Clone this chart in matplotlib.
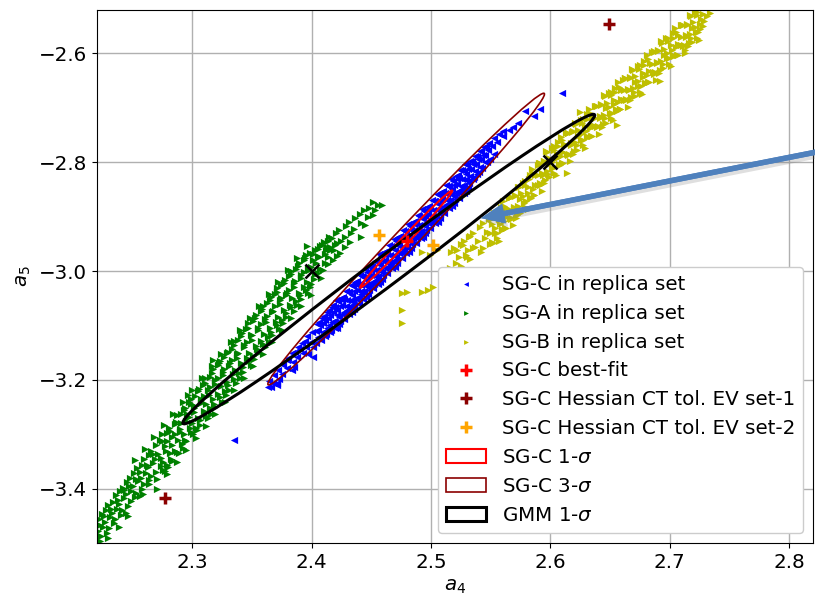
import numpy as np
import matplotlib
matplotlib.use("Agg")
import matplotlib.pyplot as plt
from matplotlib.patches import Ellipse
import matplotlib.patheffects as pe

plt.rcParams['font.family'] = ['DejaVu Sans']
plt.rcParams['font.size'] = 14.3

# ---------------- data ----------------
# SG-A replica points (a4, a5)
sga_pts = [
    (2.2215,-3.455),(2.2206,-3.478),(2.2222,-3.496),(2.2238,-3.447),(2.2247,-3.470),(2.2233,-3.488),
    (2.2276,-3.440),(2.2265,-3.462),(2.2281,-3.481),(2.2296,-3.430),(2.2309,-3.452),(2.2302,-3.472),
    (2.2335,-3.425),(2.2324,-3.445),(2.2340,-3.463),(2.2357,-3.412),(2.2368,-3.438),(2.2352,-3.456),
    (2.2394,-3.405),(2.2386,-3.428),(2.2399,-3.449),(2.2418,-3.398),(2.2427,-3.418),(2.2410,-3.440),
    (2.2455,-3.387),(2.2446,-3.410),(2.2461,-3.432),(2.2476,-3.380),(2.2489,-3.404),(2.2482,-3.423),
    (2.2514,-3.372),(2.2505,-3.395),(2.2518,-3.415),(2.2536,-3.362),(2.2547,-3.386),(2.2531,-3.408),
    (2.2575,-3.356),(2.2566,-3.380),(2.2579,-3.400),(2.2597,-3.345),(2.2608,-3.372),(2.2593,-3.392),
    (2.2634,-3.338),(2.2625,-3.360),(2.2639,-3.385),(2.2656,-3.330),(2.2668,-3.353),(2.2652,-3.377),
    (2.2694,-3.320),(2.2685,-3.345),(2.2698,-3.369),
    (2.2225,-3.466),(2.2262,-3.451),(2.2318,-3.437),(2.2372,-3.421),(2.2430,-3.402),(2.2470,-3.395),
    (2.2525,-3.383),(2.2560,-3.370),(2.2615,-3.356),(2.2670,-3.336),(2.2290,-3.490),(2.2440,-3.444),
    (2.2588,-3.410),
    (2.2732,-3.310),(2.2711,-3.336),(2.2737,-3.358),(2.2706,-3.382),(2.2745,-3.312),(2.2738,-3.344),(2.2750,-3.366),
    (2.2749,-3.300),(2.2775,-3.330),(2.2756,-3.352),(2.2768,-3.368),(2.2786,-3.298),(2.2772,-3.322),(2.2790,-3.356),
    (2.2806,-3.288),(2.2783,-3.312),(2.2810,-3.335),(2.2798,-3.360),(2.2815,-3.294),(2.2828,-3.320),(2.2822,-3.345),
    (2.2852,-3.282),(2.2831,-3.306),(2.2857,-3.330),(2.2826,-3.350),(2.2866,-3.278),(2.2853,-3.300),(2.2870,-3.332),
    (2.2869,-3.265),(2.2895,-3.290),(2.2876,-3.310),(2.2888,-3.335),(2.2905,-3.262),(2.2892,-3.296),(2.2910,-3.318),
    (2.2926,-3.256),(2.2903,-3.280),(2.2930,-3.300),(2.2918,-3.326),(2.2935,-3.252),(2.2948,-3.276),(2.2941,-3.310),
    (2.2972,-3.240),(2.2951,-3.262),(2.2977,-3.288),(2.2946,-3.312),(2.2986,-3.244),(2.2973,-3.268),(2.2990,-3.296),
    (2.2989,-3.236),(2.3015,-3.260),(2.2996,-3.280),(2.3008,-3.300),(2.3025,-3.230),(2.3012,-3.252),(2.3030,-3.288),
    (2.3046,-3.220),(2.3023,-3.248),(2.3050,-3.270),(2.3038,-3.292),(2.3055,-3.216),(2.3068,-3.242),(2.3061,-3.274),
    (2.3092,-3.210),(2.3071,-3.236),(2.3097,-3.258),(2.3066,-3.284),(2.3106,-3.206),(2.3093,-3.230),(2.3110,-3.266),
    (2.3109,-3.196),(2.3135,-3.228),(2.3116,-3.244),(2.3128,-3.270),(2.3145,-3.194),(2.3132,-3.218),(2.3150,-3.252),
    (2.3166,-3.188),(2.3143,-3.214),(2.3170,-3.236),(2.3158,-3.262),(2.3175,-3.180),(2.3188,-3.208),(2.3181,-3.244),
    (2.3212,-3.172),(2.3191,-3.200),(2.3217,-3.226),(2.3186,-3.250),(2.3226,-3.170),(2.3213,-3.196),(2.3230,-3.232),
    (2.3229,-3.166),(2.3255,-3.192),(2.3236,-3.212),(2.3248,-3.240),(2.3265,-3.158),(2.3252,-3.186),(2.3270,-3.220),
    (2.3286,-3.150),(2.3263,-3.180),(2.3290,-3.204),(2.3278,-3.228),(2.3295,-3.148),(2.3308,-3.174),(2.3301,-3.210),
    (2.3332,-3.144),(2.3311,-3.170),(2.3337,-3.190),(2.3306,-3.218),(2.3346,-3.136),(2.3333,-3.164),(2.3350,-3.198),
    (2.3349,-3.128),(2.3375,-3.160),(2.3356,-3.182),(2.3368,-3.206),(2.3385,-3.126),(2.3372,-3.152),(2.3390,-3.188),
    (2.3406,-3.120),(2.3383,-3.150),(2.3410,-3.170),(2.3398,-3.196),(2.3415,-3.114),(2.3428,-3.140),(2.3421,-3.176),
    (2.3452,-3.106),(2.3431,-3.136),(2.3457,-3.160),(2.3426,-3.186),(2.3466,-3.104),(2.3453,-3.130),(2.3470,-3.166),
    (2.3469,-3.096),(2.3495,-3.126),(2.3476,-3.150),(2.3488,-3.172),(2.3505,-3.092),(2.3492,-3.118),(2.3510,-3.156),
    (2.3526,-3.086),(2.3503,-3.118),(2.3530,-3.138),(2.3518,-3.162),(2.3535,-3.080),(2.3548,-3.108),(2.3541,-3.144),
    (2.3572,-3.074),(2.3551,-3.104),(2.3577,-3.128),(2.3546,-3.150),(2.3586,-3.070),(2.3573,-3.098),(2.3590,-3.134),
    (2.3589,-3.064),(2.3615,-3.094),(2.3596,-3.116),(2.3608,-3.140),(2.3625,-3.058),(2.3612,-3.088),(2.3630,-3.122),
    (2.3646,-3.054),(2.3623,-3.082),(2.3650,-3.104),(2.3638,-3.130),(2.3655,-3.048),(2.3668,-3.076),(2.3661,-3.112),
    (2.3692,-3.042),(2.3671,-3.074),(2.3697,-3.094),(2.3666,-3.118),(2.3706,-3.038),(2.3693,-3.064),(2.3710,-3.100),
    (2.3709,-3.032),(2.3735,-3.060),(2.3716,-3.084),(2.3728,-3.106),(2.3745,-3.026),(2.3732,-3.054),(2.3750,-3.090),
    (2.3766,-3.022),(2.3743,-3.050),(2.3770,-3.072),(2.3758,-3.096),(2.3775,-3.016),(2.3788,-3.044),(2.3781,-3.078),
    (2.3812,-3.010),(2.3791,-3.040),(2.3817,-3.062),(2.3786,-3.084),(2.3826,-3.006),(2.3813,-3.034),(2.3830,-3.066),
    (2.3829,-3.000),(2.3855,-3.030),(2.3836,-3.050),(2.3848,-3.074),(2.3865,-2.996),(2.3852,-3.022),(2.3870,-3.056),
    (2.3886,-2.990),(2.3863,-3.018),(2.3890,-3.040),(2.3878,-3.062),(2.3895,-2.986),(2.3908,-3.012),(2.3901,-3.044),
    (2.3932,-2.980),(2.3911,-3.008),(2.3937,-3.030),(2.3906,-3.052),(2.3946,-2.976),(2.3933,-3.002),(2.3950,-3.034),
    (2.3949,-2.970),(2.3975,-2.998),(2.3956,-3.020),(2.3968,-3.040),(2.3985,-2.966),(2.3972,-2.994),(2.3990,-3.024),
    (2.4012,-2.968),(2.3991,-2.992),(2.4017,-3.014),(2.3986,-3.030),(2.4026,-2.962),(2.4013,-2.980),(2.4030,-3.006),
    (2.4049,-2.960),(2.4035,-2.985),(2.4056,-3.004),(2.4066,-2.954),(2.4053,-2.972),(2.4070,-2.996),
    (2.4086,-2.952),(2.4063,-2.975),(2.4090,-2.998),(2.4078,-3.012),(2.4105,-2.946),(2.4118,-2.962),(2.4111,-2.986),
    (2.4132,-2.944),(2.4111,-2.968),(2.4137,-2.988),(2.4146,-2.938),(2.4150,-2.956),(2.4133,-2.975),
    (2.4169,-2.940),(2.4155,-2.962),(2.4176,-2.980),(2.4185,-2.961),(2.4210,-2.949),(2.4130,-2.956),
    (2.4206,-2.930),(2.4193,-2.952),(2.4210,-2.972),(2.4232,-2.925),(2.4241,-2.945),(2.4237,-2.967),
    (2.4286,-2.918),(2.4275,-2.938),(2.4280,-2.956),(2.4312,-2.910),(2.4325,-2.930),(2.4320,-2.947),
    (2.4365,-2.902),(2.4352,-2.922),(2.4400,-2.896),(2.4412,-2.912),(2.4410,-2.938),(2.4435,-2.888),
    (2.4450,-2.916),(2.4480,-2.884),(2.4475,-2.900),(2.4515,-2.873),(2.4530,-2.888),(2.4515,-2.897),
    (2.4556,-2.879),(2.4590,-2.879),
    (2.317,-3.163),(2.296,-3.228),(2.270,-3.400),(2.246,-3.451),(2.2385,-3.470),
    # outer parts of the band
    (2.276,-3.284),(2.279,-3.374),(2.284,-3.262),(2.287,-3.351),(2.292,-3.240),(2.295,-3.329),
    (2.300,-3.218),(2.303,-3.307),(2.308,-3.196),(2.311,-3.285),(2.316,-3.174),(2.319,-3.263),
    (2.324,-3.152),(2.327,-3.241),(2.332,-3.130),(2.335,-3.219),(2.340,-3.108),(2.343,-3.197),
    (2.348,-3.086),(2.351,-3.175),(2.356,-3.064),(2.359,-3.153),(2.364,-3.042),(2.367,-3.131),
    (2.372,-3.020),(2.375,-3.109),(2.380,-2.998),(2.383,-3.087),(2.388,-2.976),(2.391,-3.065),
    (2.396,-2.954),(2.399,-3.044),
    (2.252,-3.348),(2.260,-3.328),(2.268,-3.306),(2.256,-3.414),(2.264,-3.392),
]

# SG-B replica points (a4, a5)
sgb_pts = [
    (2.5168,-2.965),(2.5155,-2.995),(2.5193,-2.958),(2.5211,-2.985),(2.5248,-2.950),(2.5232,-2.975),(2.5252,-2.990),
    (2.5275,-2.945),(2.5290,-2.970),(2.5330,-2.935),(2.5312,-2.962),(2.5326,-2.978),(2.5352,-2.930),(2.5371,-2.955),
    (2.5410,-2.920),(2.5393,-2.945),(2.5415,-2.965),(2.5436,-2.912),(2.5450,-2.940),(2.5432,-2.958),
    (2.5488,-2.905),(2.5472,-2.928),(2.5490,-2.950),(2.5505,-2.905),(2.5495,-2.930),(2.5510,-2.946),
    (2.5531,-2.894),(2.5512,-2.913),(2.5537,-2.931),(2.5516,-2.949),(2.5546,-2.898),(2.5533,-2.921),(2.5550,-2.940),
    (2.5549,-2.892),(2.5575,-2.914),(2.5556,-2.930),(2.5568,-2.944),(2.5586,-2.883),(2.5573,-2.905),(2.5590,-2.923),
    (2.5606,-2.872),(2.5583,-2.890),(2.5610,-2.908),(2.5598,-2.924),(2.5615,-2.880),(2.5628,-2.901),(2.5621,-2.921),
    (2.5652,-2.866),(2.5631,-2.885),(2.5657,-2.903),(2.5626,-2.921),(2.5666,-2.864),(2.5653,-2.886),(2.5670,-2.904),
    (2.5669,-2.864),(2.5695,-2.886),(2.5676,-2.902),(2.5688,-2.916),(2.5705,-2.861),(2.5692,-2.883),(2.5710,-2.903),
    (2.5726,-2.845),(2.5703,-2.863),(2.5730,-2.881),(2.5718,-2.897),(2.5735,-2.846),(2.5748,-2.868),(2.5741,-2.886),
    (2.5772,-2.838),(2.5751,-2.857),(2.5777,-2.875),(2.5746,-2.893),(2.5786,-2.841),(2.5773,-2.863),(2.5790,-2.883),
    (2.5789,-2.834),(2.5815,-2.856),(2.5796,-2.872),(2.5808,-2.886),(2.5825,-2.824),(2.5812,-2.846),(2.5830,-2.864),
    (2.5846,-2.813),(2.5823,-2.831),(2.5850,-2.849),(2.5838,-2.865),(2.5855,-2.819),(2.5868,-2.841),(2.5861,-2.861),
    (2.5892,-2.805),(2.5871,-2.824),(2.5897,-2.842),(2.5866,-2.860),(2.5906,-2.802),(2.5893,-2.824),(2.5910,-2.842),
    (2.5909,-2.801),(2.5935,-2.823),(2.5916,-2.839),(2.5928,-2.853),(2.5945,-2.797),(2.5932,-2.819),(2.5950,-2.839),
    (2.5966,-2.780),(2.5943,-2.798),(2.5970,-2.816),(2.5958,-2.832),(2.5975,-2.781),(2.5988,-2.803),(2.5981,-2.821),
    (2.6012,-2.773),(2.5991,-2.792),(2.6017,-2.810),(2.5986,-2.828),(2.6026,-2.777),(2.6013,-2.799),(2.6030,-2.819),
    (2.6029,-2.771),(2.6055,-2.793),(2.6036,-2.809),(2.6048,-2.823),(2.6065,-2.763),(2.6052,-2.785),(2.6070,-2.803),
    (2.6086,-2.753),(2.6063,-2.771),(2.6090,-2.789),(2.6078,-2.805),(2.6095,-2.760),(2.6108,-2.782),(2.6101,-2.802),
    (2.6132,-2.747),(2.6111,-2.766),(2.6137,-2.784),(2.6106,-2.802),(2.6146,-2.746),(2.6133,-2.768),(2.6150,-2.786),
    (2.6149,-2.746),(2.6175,-2.768),(2.6156,-2.784),(2.6168,-2.798),(2.6185,-2.743),(2.6172,-2.765),(2.6190,-2.785),
    (2.6206,-2.727),(2.6183,-2.745),(2.6210,-2.763),(2.6198,-2.779),(2.6215,-2.729),(2.6228,-2.751),(2.6221,-2.769),
    (2.6252,-2.722),(2.6231,-2.741),(2.6257,-2.759),(2.6226,-2.777),(2.6266,-2.727),(2.6253,-2.749),(2.6270,-2.769),
    (2.6269,-2.721),(2.6295,-2.743),(2.6276,-2.759),(2.6288,-2.773),(2.6305,-2.712),(2.6292,-2.734),(2.6310,-2.752),
    (2.6326,-2.702),(2.6303,-2.720),(2.6330,-2.738),(2.6318,-2.754),(2.6335,-2.710),(2.6348,-2.732),(2.6341,-2.752),
    (2.6372,-2.697),(2.6351,-2.716),(2.6377,-2.734),(2.6346,-2.752),(2.6386,-2.696),(2.6373,-2.718),(2.6390,-2.736),
    (2.6389,-2.696),(2.6415,-2.718),(2.6396,-2.734),(2.6408,-2.748),(2.6425,-2.693),(2.6412,-2.715),(2.6430,-2.735),
    (2.6446,-2.677),(2.6423,-2.695),(2.6450,-2.713),(2.6438,-2.729),(2.6455,-2.679),(2.6468,-2.701),(2.6461,-2.719),
    (2.6492,-2.672),(2.6471,-2.691),(2.6497,-2.709),(2.6466,-2.727),(2.6506,-2.677),(2.6493,-2.699),(2.6510,-2.719),
    (2.6509,-2.671),(2.6535,-2.693),(2.6516,-2.709),(2.6528,-2.723),(2.6545,-2.663),(2.6532,-2.685),(2.6550,-2.703),
    (2.6566,-2.653),(2.6543,-2.671),(2.6570,-2.689),(2.6558,-2.705),(2.6575,-2.661),(2.6588,-2.683),(2.6581,-2.703),
    (2.6612,-2.648),(2.6591,-2.667),(2.6617,-2.685),(2.6586,-2.703),(2.6626,-2.646),(2.6613,-2.668),(2.6630,-2.686),
    (2.6629,-2.646),(2.6655,-2.668),(2.6636,-2.684),(2.6648,-2.698),(2.6665,-2.644),(2.6652,-2.666),(2.6670,-2.686),
    (2.6686,-2.628),(2.6663,-2.646),(2.6690,-2.664),(2.6678,-2.680),(2.6695,-2.630),(2.6708,-2.652),(2.6701,-2.670),
    (2.6732,-2.623),(2.6711,-2.642),(2.6737,-2.660),(2.6706,-2.678),(2.6746,-2.628),(2.6733,-2.650),(2.6750,-2.670),
    (2.6749,-2.622),(2.6775,-2.644),(2.6756,-2.660),(2.6768,-2.674),(2.6785,-2.614),(2.6772,-2.636),(2.6790,-2.654),
    (2.6806,-2.603),(2.6783,-2.621),(2.6810,-2.639),(2.6798,-2.655),(2.6815,-2.611),(2.6828,-2.633),(2.6821,-2.653),
    (2.6852,-2.598),(2.6831,-2.617),(2.6857,-2.635),(2.6826,-2.653),(2.6866,-2.597),(2.6853,-2.619),(2.6870,-2.637),
    (2.6869,-2.596),(2.6895,-2.618),(2.6876,-2.634),(2.6888,-2.648),(2.6905,-2.594),(2.6892,-2.616),(2.6910,-2.636),
    (2.6926,-2.578),(2.6903,-2.596),(2.6930,-2.614),(2.6918,-2.630),(2.6935,-2.580),(2.6948,-2.602),(2.6941,-2.620),
    (2.6972,-2.572),(2.6951,-2.591),(2.6977,-2.609),(2.6946,-2.627),(2.6986,-2.577),(2.6973,-2.599),(2.6990,-2.619),
    (2.6989,-2.571),(2.7015,-2.593),(2.6996,-2.609),(2.7008,-2.623),(2.7025,-2.563),(2.7012,-2.585),(2.7030,-2.603),
    (2.7046,-2.553),(2.7023,-2.571),(2.7050,-2.589),(2.7038,-2.605),(2.7055,-2.561),(2.7068,-2.583),(2.7061,-2.603),
    (2.7092,-2.548),(2.7071,-2.567),(2.7097,-2.585),(2.7066,-2.603),(2.7106,-2.547),(2.7093,-2.569),(2.7110,-2.587),
    (2.7109,-2.547),(2.7135,-2.569),(2.7116,-2.585),(2.7128,-2.599),(2.7145,-2.545),(2.7132,-2.567),(2.7150,-2.587),
    (2.7166,-2.529),(2.7143,-2.547),(2.7170,-2.565),(2.7158,-2.581),(2.7175,-2.531),(2.7188,-2.553),(2.7181,-2.571),
    (2.7212,-2.524),(2.7191,-2.543),(2.7217,-2.561),(2.7186,-2.579),(2.7226,-2.529),(2.7213,-2.551),(2.7230,-2.571),
    (2.7229,-2.523),(2.7255,-2.545),(2.7236,-2.561),(2.7248,-2.575),(2.7265,-2.537),(2.7252,-2.555),
    (2.7282,-2.527),(2.7275,-2.549),(2.7290,-2.540),(2.7316,-2.532),(2.7340,-2.525),
    (2.476,-3.040),(2.476,-3.072),(2.476,-3.095),(2.480,-3.039),(2.492,-3.039),(2.492,-2.965),
    (2.497,-3.035),(2.502,-3.029),(2.499,-2.971),(2.505,-2.961),(2.522,-2.961),(2.530,-2.974),
    (2.535,-2.958),(2.527,-2.952),(2.532,-2.938),(2.614,-2.820),(2.656,-2.732),(2.713,-2.594),
    (2.675,-2.672),(2.692,-2.650),(2.625,-2.708),
]

# SG-C replica points (a4, a5)
sgc_pts = [
    (2.3642,-3.202),(2.3655,-3.214),(2.3680,-3.192),(2.3672,-3.206),(2.3718,-3.182),(2.3725,-3.198),(2.3712,-3.210),
    (2.3762,-3.172),(2.3750,-3.190),(2.3802,-3.160),(2.3795,-3.178),(2.3838,-3.150),(2.3845,-3.168),(2.3832,-3.182),
    (2.3882,-3.140),(2.3875,-3.158),(2.3918,-3.132),(2.3925,-3.150),(2.3962,-3.120),(2.3955,-3.140),(2.3968,-3.152),
    (2.4002,-3.112),(2.3995,-3.130),(2.4008,-3.140),(2.3862,-3.148),(2.3902,-3.144),(2.3942,-3.128),
    (2.4046,-3.098),(2.4033,-3.110),(2.4050,-3.122),(2.4038,-3.132),(2.4062,-3.094),(2.4055,-3.108),(2.4068,-3.124),
    (2.4086,-3.086),(2.4073,-3.100),(2.4090,-3.112),(2.4078,-3.126),(2.4102,-3.082),(2.4095,-3.096),(2.4108,-3.110),(2.4112,-3.120),
    (2.4126,-3.076),(2.4113,-3.090),(2.4130,-3.104),(2.4118,-3.116),(2.4142,-3.072),(2.4135,-3.086),(2.4148,-3.100),(2.4152,-3.112),
    (2.4166,-3.066),(2.4153,-3.080),(2.4170,-3.094),(2.4158,-3.108),(2.4182,-3.062),(2.4175,-3.076),(2.4188,-3.092),(2.4192,-3.104),
    (2.4206,-3.053),(2.4193,-3.067),(2.4210,-3.081),(2.4198,-3.093),(2.4215,-3.104),
    (2.4222,-3.056),(2.4215,-3.072),(2.4228,-3.085),(2.4232,-3.097),
    (2.4246,-3.049),(2.4233,-3.065),(2.4250,-3.079),(2.4238,-3.091),(2.4255,-3.054),
    (2.4262,-3.047),(2.4255,-3.063),(2.4268,-3.076),(2.4272,-3.088),
    (2.4286,-3.036),(2.4273,-3.051),(2.4290,-3.065),(2.4278,-3.078),(2.4295,-3.071),
    (2.4302,-3.038),(2.4295,-3.054),(2.4308,-3.067),(2.4312,-3.079),
    (2.4326,-3.025),(2.4313,-3.039),(2.4330,-3.053),(2.4318,-3.065),(2.4335,-3.076),
    (2.4342,-3.028),(2.4335,-3.044),(2.4348,-3.057),(2.4352,-3.069),
    (2.4366,-3.021),(2.4353,-3.037),(2.4370,-3.051),(2.4358,-3.063),(2.4375,-3.026),
    (2.4382,-3.019),(2.4375,-3.035),(2.4388,-3.048),(2.4392,-3.060),
    (2.4406,-3.008),(2.4393,-3.023),(2.4410,-3.037),(2.4398,-3.050),(2.4415,-3.043),
    (2.4422,-3.010),(2.4415,-3.026),(2.4428,-3.039),(2.4432,-3.051),
    (2.4446,-2.997),(2.4433,-3.011),(2.4450,-3.025),(2.4438,-3.037),(2.4455,-3.048),
    (2.4462,-3.001),(2.4455,-3.017),(2.4468,-3.030),(2.4472,-3.042),
    (2.4486,-2.993),(2.4473,-3.009),(2.4490,-3.023),(2.4478,-3.035),(2.4495,-2.998),
    (2.4502,-2.991),(2.4495,-3.007),(2.4508,-3.020),(2.4512,-3.032),
    (2.4526,-2.981),(2.4513,-2.996),(2.4530,-3.010),(2.4518,-3.023),(2.4535,-3.016),
    (2.4542,-2.982),(2.4535,-2.998),(2.4548,-3.011),(2.4552,-3.023),
    (2.4566,-2.969),(2.4553,-2.983),(2.4570,-2.997),(2.4558,-3.009),(2.4575,-3.020),
    (2.4582,-2.973),(2.4575,-2.989),(2.4588,-3.002),(2.4592,-3.014),
    (2.4606,-2.965),(2.4593,-2.981),(2.4610,-2.995),(2.4598,-3.007),(2.4615,-2.970),
    (2.4622,-2.963),(2.4615,-2.979),(2.4628,-2.992),(2.4632,-3.004),
    (2.4646,-2.953),(2.4633,-2.968),(2.4650,-2.982),(2.4638,-2.995),(2.4655,-2.988),
    (2.4662,-2.954),(2.4655,-2.970),(2.4668,-2.983),(2.4672,-2.995),
    (2.4686,-2.942),(2.4673,-2.956),(2.4690,-2.970),(2.4678,-2.982),(2.4695,-2.993),
    (2.4702,-2.945),(2.4695,-2.961),(2.4708,-2.974),(2.4712,-2.986),
    (2.4726,-2.937),(2.4713,-2.953),(2.4730,-2.967),(2.4718,-2.979),(2.4735,-2.942),
    (2.4742,-2.936),(2.4735,-2.952),(2.4748,-2.965),(2.4752,-2.977),
    (2.4766,-2.925),(2.4753,-2.940),(2.4770,-2.954),(2.4758,-2.967),(2.4775,-2.960),
    (2.4782,-2.926),(2.4775,-2.942),(2.4788,-2.955),(2.4792,-2.967),
    (2.4806,-2.914),(2.4793,-2.928),(2.4810,-2.942),(2.4798,-2.954),(2.4815,-2.965),
    (2.4822,-2.917),(2.4815,-2.933),(2.4828,-2.946),(2.4832,-2.958),
    (2.4846,-2.909),(2.4833,-2.925),(2.4850,-2.939),(2.4838,-2.951),(2.4855,-2.914),
    (2.4862,-2.908),(2.4855,-2.924),(2.4868,-2.937),(2.4872,-2.949),
    (2.4886,-2.897),(2.4873,-2.912),(2.4890,-2.926),(2.4878,-2.939),(2.4895,-2.932),
    (2.4902,-2.899),(2.4895,-2.915),(2.4908,-2.928),(2.4912,-2.940),
    (2.4926,-2.886),(2.4913,-2.900),(2.4930,-2.914),(2.4918,-2.926),(2.4935,-2.937),
    (2.4942,-2.889),(2.4935,-2.905),(2.4948,-2.918),(2.4952,-2.930),
    (2.4966,-2.882),(2.4953,-2.898),(2.4970,-2.912),(2.4958,-2.924),(2.4975,-2.887),
    (2.4982,-2.880),(2.4975,-2.896),(2.4988,-2.909),(2.4992,-2.921),
    (2.5006,-2.869),(2.4993,-2.884),(2.5010,-2.898),(2.4998,-2.911),(2.5015,-2.904),
    (2.5022,-2.871),(2.5015,-2.887),(2.5028,-2.900),(2.5032,-2.912),
    (2.5046,-2.858),(2.5033,-2.872),(2.5050,-2.886),(2.5038,-2.898),(2.5055,-2.909),
    (2.5062,-2.861),(2.5055,-2.877),(2.5068,-2.890),(2.5072,-2.902),
    (2.5086,-2.854),(2.5073,-2.870),(2.5090,-2.884),(2.5078,-2.896),(2.5095,-2.859),
    (2.5102,-2.852),(2.5095,-2.868),(2.5108,-2.881),(2.5112,-2.893),
    (2.5126,-2.841),(2.5113,-2.856),(2.5130,-2.870),(2.5118,-2.883),(2.5135,-2.876),
    (2.5142,-2.843),(2.5135,-2.859),(2.5148,-2.872),(2.5152,-2.884),
    (2.5166,-2.830),(2.5153,-2.844),(2.5170,-2.858),(2.5158,-2.870),(2.5175,-2.881),
    (2.5182,-2.834),(2.5175,-2.850),(2.5188,-2.863),(2.5192,-2.875),
    (2.5206,-2.826),(2.5193,-2.842),(2.5210,-2.856),(2.5198,-2.868),(2.5215,-2.831),
    (2.5222,-2.824),(2.5215,-2.840),(2.5228,-2.853),(2.5232,-2.865),
    (2.5246,-2.814),(2.5233,-2.829),(2.5250,-2.843),(2.5238,-2.856),(2.5255,-2.849),
    (2.5262,-2.815),(2.5255,-2.831),(2.5268,-2.844),(2.5272,-2.856),
    (2.5286,-2.803),(2.5273,-2.816),(2.5290,-2.830),(2.5278,-2.842),(2.5295,-2.852),
    (2.5302,-2.806),(2.5295,-2.822),(2.5308,-2.835),(2.5312,-2.846),
    (2.5326,-2.798),(2.5313,-2.812),(2.5330,-2.826),(2.5318,-2.838),
    (2.5342,-2.797),(2.5335,-2.813),(2.5348,-2.830),
    (2.5366,-2.789),(2.5353,-2.803),(2.5370,-2.817),(2.5358,-2.828),
    (2.5382,-2.788),(2.5375,-2.804),(2.5388,-2.821),
    (2.5406,-2.780),(2.5393,-2.794),(2.5410,-2.808),(2.5398,-2.818),
    (2.5422,-2.779),(2.5415,-2.795),(2.5428,-2.811),
    (2.5446,-2.772),(2.5433,-2.786),(2.5450,-2.800),(2.5462,-2.770),(2.5455,-2.786),(2.5468,-2.800),
    (2.5486,-2.764),(2.5473,-2.778),(2.5490,-2.794),(2.5526,-2.756),(2.5513,-2.770),(2.5530,-2.784),
    (2.5566,-2.748),(2.5553,-2.762),(2.5606,-2.742),(2.5600,-2.752),
    (2.565,-2.740),(2.569,-2.736),(2.573,-2.728),(2.579,-2.706),(2.591,-2.703),(2.610,-2.673),(2.586,-2.715),
    (2.335,-3.310),(2.363,-3.213),(2.371,-3.206),(2.3795,-3.163),(2.385,-3.176),(2.401,-3.158),
]

best_fit_x = [2.480]
best_fit_y = [-2.945]
ev_set1_x = [2.649, 2.277]
ev_set1_y = [-2.545, -3.418]
ev_set2_x = [2.456, 2.502]
ev_set2_y = [-2.934, -2.952]
gmm_centers_x = [2.400, 2.600]
gmm_centers_y = [-3.000, -2.800]

# ellipses: centre, full width, full height, angle (deg) in data units
sgc_center = (2.4791, -2.9413)
sgc_1s = (0.1945, 0.0077, 66.7)
sgc_3s = (0.5836, 0.0231, 66.7)
gmm_center = (2.4645, -2.9964)
gmm_1s = (0.6646, 0.0342, 58.84)

arrow_start = (2.835, -2.776)
arrow_end = (2.5418, -2.9028)

labels = ['SG-C in replica set', 'SG-A in replica set', 'SG-B in replica set',
          'SG-C best-fit', 'SG-C Hessian CT tol. EV set-1', 'SG-C Hessian CT tol. EV set-2',
          r'SG-C 1-$\sigma$', r'SG-C 3-$\sigma$', r'GMM 1-$\sigma$']

fig = plt.figure(figsize=(8.15, 6.04), dpi=100)
ax = fig.add_axes([0.119, 0.101, 0.8785, 0.8826])

ax.grid(True, color='#b0b0b0', lw=1.0)
ax.set_axisbelow(True)

cx, cy = np.array(sgc_pts).T
gx, gy = np.array(sga_pts).T
bx, by = np.array(sgb_pts).T
ms = 27
ax.scatter(cx, cy, marker='<', s=ms, color='b', lw=0, label=labels[0], zorder=2)
ax.scatter(gx, gy, marker='>', s=ms, color='g', lw=0, label=labels[1], zorder=2)
ax.scatter(bx, by, marker='>', s=ms, color='y', lw=0, label=labels[2], zorder=2)

ax.plot(best_fit_x, best_fit_y, '+', color='red', ms=9, mew=2.5, ls='none',
        label=labels[3], zorder=4)
ax.plot(ev_set1_x, ev_set1_y, '+', color='darkred', ms=9, mew=2.5, ls='none',
        label=labels[4], zorder=4)
ax.plot(ev_set2_x, ev_set2_y, '+', color='orange', ms=9, mew=2.5, ls='none',
        label=labels[5], zorder=4)

e1 = Ellipse(sgc_center, sgc_1s[0], sgc_1s[1], angle=sgc_1s[2], fill=False,
             edgecolor='red', lw=1.5, zorder=3, label=labels[6])
e3 = Ellipse(sgc_center, sgc_3s[0], sgc_3s[1], angle=sgc_3s[2], fill=False,
             edgecolor='darkred', lw=1.2, zorder=3, label=labels[7])
eg = Ellipse(gmm_center, gmm_1s[0], gmm_1s[1], angle=gmm_1s[2], fill=False,
             edgecolor='black', lw=2.2, zorder=3, label=labels[8])
for e in (e1, e3, eg):
    ax.add_patch(e)

ax.plot(gmm_centers_x, gmm_centers_y, 'x', color='black', ms=10, mew=1.8, ls='none', zorder=5)

ax.set_xlim(2.22, 2.82)
ax.set_ylim(-3.5, -2.52)
ax.set_xticks([2.3, 2.4, 2.5, 2.6, 2.7, 2.8])
ax.set_yticks([-3.4, -3.2, -3.0, -2.8, -2.6])
ax.set_xlabel(r'$a_4$')
ax.set_ylabel(r'$a_5$')

leg = ax.legend(loc='lower right', markerscale=1.0, framealpha=1.0,
                handlelength=2.0, labelspacing=0.5)
for h in leg.legend_handles[:3]:
    h.set_sizes([12])
leg.set_zorder(6)

ann = ax.annotate('', xy=arrow_end, xytext=arrow_start, xycoords='data',
                  textcoords='data', annotation_clip=False,
                  arrowprops=dict(arrowstyle='simple,head_length=1.3,head_width=1.1,tail_width=0.3',
                                  mutation_scale=13, fc='#4F81BD', ec='none', lw=0,
                                  shrinkA=0, shrinkB=0))
ann.arrow_patch.set_path_effects([pe.withSimplePatchShadow(offset=(1.5, -2.5), shadow_rgbFace='gray', alpha=0.25), pe.Normal()])
ann.set_zorder(7)

fig.savefig('out.png', dpi=100)
